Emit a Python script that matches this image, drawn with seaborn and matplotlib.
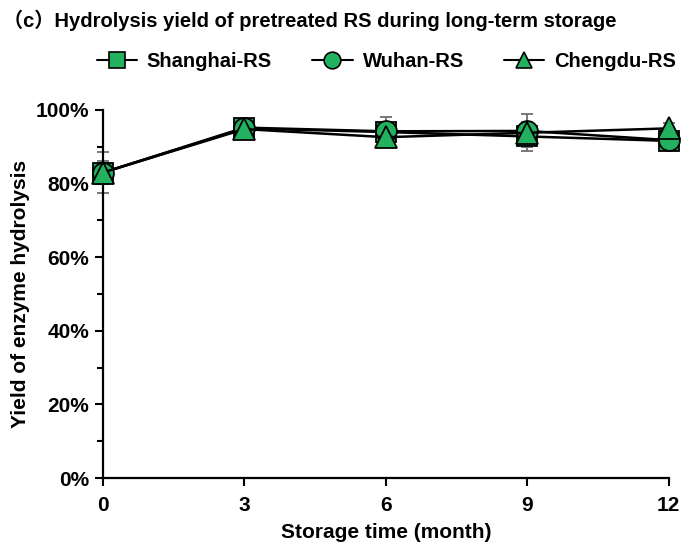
import numpy as np
import pandas as pd
import matplotlib
matplotlib.use("Agg")
import matplotlib.pyplot as plt
import seaborn as sns
from matplotlib.ticker import FixedLocator, MultipleLocator, PercentFormatter
from matplotlib.lines import Line2D

# Storage time (months) and hydrolysis yield (%) for each straw source
months = [0, 3, 6, 9, 12]
shanghai = [83.0, 95.0, 94.0, 92.8, 91.6]
wuhan = [83.0, 95.2, 94.2, 94.3, 91.8]
chengdu = [83.0, 94.8, 92.6, 93.8, 95.0]
shanghai_err = [5.6, 0.8, 4.2, 4.0, 1.2]
wuhan_err = [3.0, 0.8, 2.5, 4.5, 1.0]
chengdu_err = [2.5, 0.6, 1.5, 2.0, 1.5]
series_names = ["Shanghai-RS", "Wuhan-RS", "Chengdu-RS"]
title_text = "（c）Hydrolysis yield of pretreated RS during long-term storage"

sns.set_theme(style="ticks")
plt.rcParams["font.family"] = ["Liberation Sans", "Noto Sans CJK SC", "DejaVu Sans"]
plt.rcParams["font.weight"] = "bold"
plt.rcParams["text.color"] = "black"
plt.rcParams["axes.labelcolor"] = "black"
plt.rcParams["xtick.color"] = "black"
plt.rcParams["ytick.color"] = "black"

df = pd.DataFrame({
    "month": months * 3,
    "yield": shanghai + wuhan + chengdu,
    "err": shanghai_err + wuhan_err + chengdu_err,
    "source": [s for s in series_names for _ in months],
})

fig = plt.figure(figsize=(6.84, 5.47), dpi=100)
ax = fig.add_axes([0.1506, 0.126, 0.827, 0.673])

green = "#22B15F"
markers = {"Shanghai-RS": "s", "Wuhan-RS": "o", "Chengdu-RS": "^"}
sizes = {"Shanghai-RS": 14, "Wuhan-RS": 15, "Chengdu-RS": 15.5}

for name in series_names:
    sub = df[df["source"] == name]
    ax.errorbar(sub["month"], sub["yield"], yerr=sub["err"], fmt="none",
                ecolor="#6e6e6e", elinewidth=1.3, capsize=4, capthick=1.3,
                zorder=2, clip_on=False)

for name in series_names:
    sub = df[df["source"] == name]
    sns.lineplot(data=sub, x="month", y="yield", ax=ax, color="black",
                 linewidth=1.8, marker=markers[name], markersize=sizes[name],
                 markerfacecolor=green, markeredgecolor="black",
                 markeredgewidth=1.3, zorder=3, clip_on=False, legend=False)

ax.set_xlim(0, 12)
ax.set_ylim(0, 100)
ax.xaxis.set_major_locator(FixedLocator(months))
ax.yaxis.set_major_locator(MultipleLocator(20))
ax.yaxis.set_minor_locator(MultipleLocator(10))
ax.yaxis.set_major_formatter(PercentFormatter(decimals=0))
sns.despine(ax=ax)
for s in ["left", "bottom"]:
    ax.spines[s].set_linewidth(1.6)
    ax.spines[s].set_color("black")
ax.tick_params(axis="both", which="major", direction="out", length=6,
               width=1.5, color="black", labelsize=15, pad=4)
ax.tick_params(axis="x", which="major", pad=7)
ax.tick_params(axis="y", which="minor", direction="out", length=4,
               width=1.5, color="black")
for lab in ax.get_xticklabels() + ax.get_yticklabels():
    lab.set_fontweight("bold")

ax.set_xlabel("Storage time (month)", fontsize=15, fontweight="bold", labelpad=6)
ax.set_ylabel("Yield of enzyme hydrolysis", fontsize=15, fontweight="bold", labelpad=4)

fig.text(0.005, 0.963, title_text, fontsize=14.5, fontweight="bold",
         ha="left", va="center")

handles = [Line2D([0], [0], color="black", linewidth=1.5, marker=markers[n],
                  markersize=12, markerfacecolor=green, markeredgecolor="black",
                  markeredgewidth=1.2) for n in series_names]
fig.legend(handles, series_names, loc="center", bbox_to_anchor=(0.565, 0.888),
           ncol=3, frameon=False, handlelength=2.0,
           columnspacing=2.0, handletextpad=0.5,
           prop={"weight": "bold", "size": 14.5})

fig.savefig("out.png", dpi=100)
